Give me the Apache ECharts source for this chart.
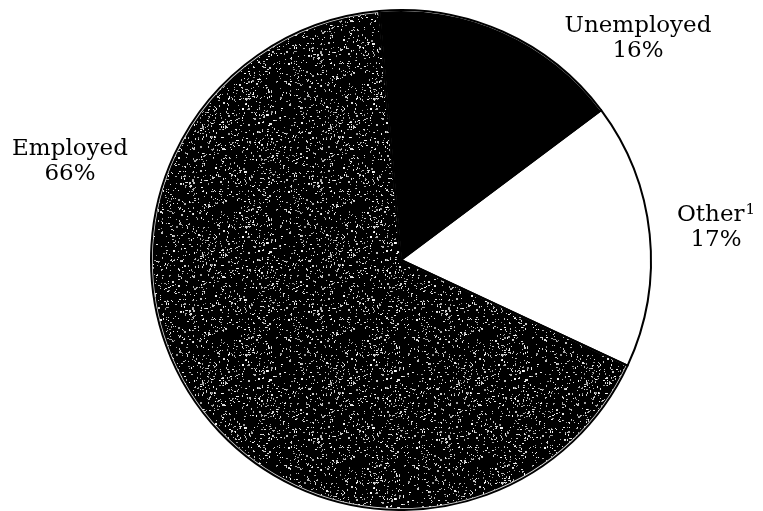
<!DOCTYPE html>
<html>
<head>
<meta charset="utf-8">
<script src="https://cdn.jsdelivr.net/npm/echarts@6/dist/echarts.min.js"></script>
<style>html,body{margin:0;padding:0;background:#fff}#c{width:763px;height:511px}</style>
</head>
<body>
<div id="c"></div>
<script>
const categories = ['Unemployed', 'Other', 'Employed'];
const values = [16, 17, 66];
const footnotes = ['', '1', ''];

// speckled texture for the dark slice (style only)
function speckle() {
  const N = 128;
  const cv = document.createElement('canvas');
  cv.width = N; cv.height = N;
  const ctx = cv.getContext('2d');
  ctx.fillStyle = '#000';
  ctx.fillRect(0, 0, N, N);
  let a = 987654321;
  function rnd() {
    a |= 0; a = a + 0x6D2B79F5 | 0;
    let t = Math.imul(a ^ a >>> 15, 1 | a);
    t = t + Math.imul(t ^ t >>> 7, 61 | t) ^ t;
    return ((t ^ t >>> 14) >>> 0) / 4294967296;
  }
  for (let i = 0; i < 1150; i++) {
    const x = Math.floor(rnd() * N), y = Math.floor(rnd() * N);
    const g = 140 + Math.floor(rnd() * 115);
    ctx.fillStyle = 'rgb(' + g + ',' + g + ',' + g + ')';
    const w = rnd() < 0.25 ? 2 : 1, h = rnd() < 0.25 ? 2 : 1;
    ctx.fillRect(x, y, w, h);
  }
  return cv;
}

const fills = ['#000', '#fff', { image: speckle(), repeat: 'repeat' }];
const labelPos = [[638, 39], [716, 228], [70, 162]];

const chart = echarts.init(document.getElementById('c'));
const pieData = categories.map((c, i) => ({ name: c, value: values[i] }));
chart.setOption({
  animation: false,
  series: [{
    type: 'pie',
    center: [401, 260],
    radius: 249,
    startAngle: 95,
    clockwise: true,
    silent: true,
    data: pieData.map((d, i) => ({
      name: d.name,
      value: d.value,
      itemStyle: { color: fills[i], borderColor: i === 2 ? '#ddd' : '#000', borderWidth: i === 2 ? 1.5 : 0 }
    })),
    label: {
      show: true,
      position: 'outside',
      overflow: 'none',
      fontFamily: 'DejaVu Serif',
      fontSize: 23,
      color: '#000',
      lineHeight: 25,
      align: 'center',
      formatter: p => p.name + (footnotes[p.dataIndex] ? '{sup|' + footnotes[p.dataIndex] + '}' : '') + '\n' + p.value + '%',
      rich: {
        sup: { fontFamily: 'DejaVu Serif', fontSize: 15, verticalAlign: 'top', lineHeight: 25, padding: [0, 0, 11, 1] }
      }
    },
    labelLine: { show: false },
    labelLayout: p => ({
      x: labelPos[p.dataIndex][0],
      y: labelPos[p.dataIndex][1],
      align: 'center',
      verticalAlign: 'middle'
    }),
    emphasis: { disabled: true }
  }, {
    type: 'pie',
    center: [401, 260],
    radius: 250,
    startAngle: 95,
    clockwise: true,
    silent: true,
    data: pieData,
    itemStyle: { color: 'rgba(0,0,0,0)', borderColor: '#000', borderWidth: 2 },
    label: { show: false },
    labelLine: { show: false },
    emphasis: { disabled: true }
  }]
});
</script>
</body>
</html>
